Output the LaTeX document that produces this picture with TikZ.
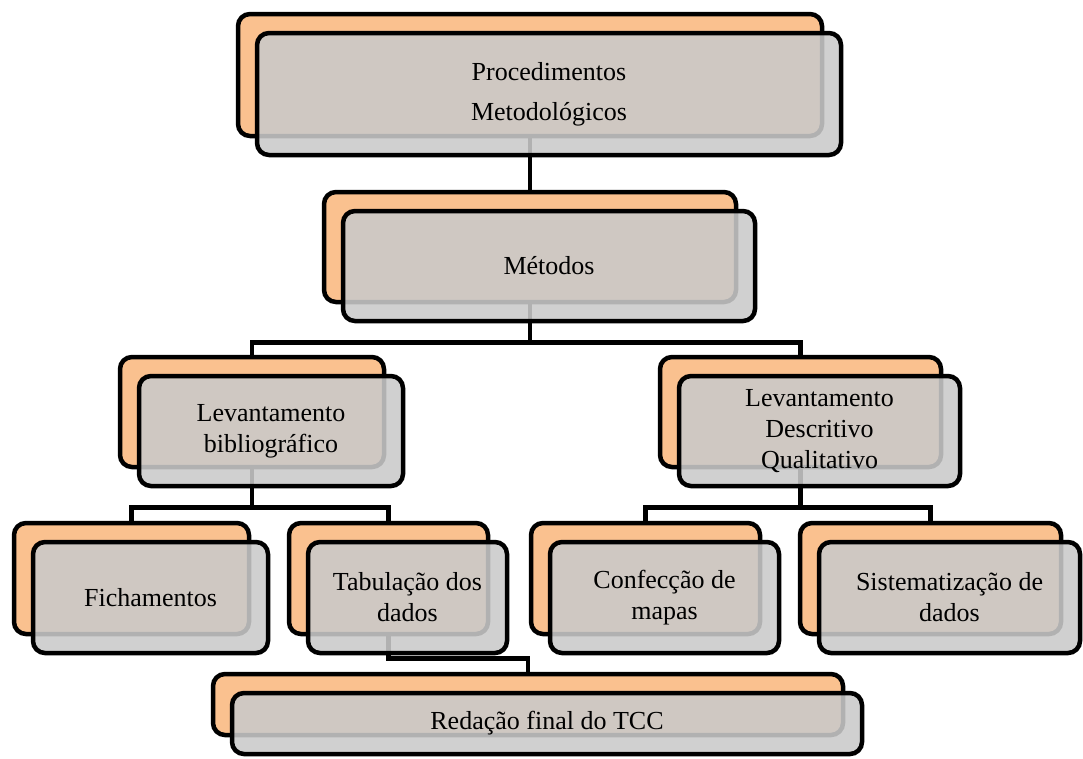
\documentclass[tikz,border=0pt]{standalone}
\usepackage{fontspec}
\setmainfont{Liberation Serif}
\definecolor{boxorange}{RGB}{250,193,143}
\definecolor{boxgrey}{RGB}{202,202,202}
\tikzset{
  backbox/.style={draw=black, line width=4.5pt, fill=boxorange, rounded corners=12pt, inner sep=0pt},
  frontbox/.style={draw=black, line width=4.5pt, fill=boxgrey, fill opacity=0.88, text opacity=1, rounded corners=12pt, inner sep=2pt, align=center, font=\fontsize{26}{31}\selectfont},
  link/.style={draw=black, line width=4.5pt}
}

\begin{document}
\begin{tikzpicture}[x=1pt, y=-1pt]
\useasboundingbox (0,0) rectangle (1083,758);
% orange boxes behind
\node[backbox, minimum width=584pt, minimum height=122pt] (procb) at (530,75) {};
\node[backbox, minimum width=412pt, minimum height=110pt] (metb) at (530,247) {};
\node[backbox, minimum width=264pt, minimum height=110pt] (bibb) at (252,412) {};
\node[backbox, minimum width=281pt, minimum height=110pt] (descb) at (800.5,412) {};
\node[backbox, minimum width=235pt, minimum height=111pt] (fichb) at (131.5,578.5) {};
\node[backbox, minimum width=199pt, minimum height=111pt] (tabb) at (388.5,578.5) {};
\node[backbox, minimum width=229pt, minimum height=111pt] (confb) at (645.5,578.5) {};
\node[backbox, minimum width=261pt, minimum height=111pt] (sistb) at (930.5,578.5) {};
\node[backbox, minimum width=630pt, minimum height=61pt] (redb) at (528,704.5) {};
% connectors
\draw[link] (procb.south) -- (metb.north);
\draw[link] (metb.south) -- ++(0,38) -| (bibb.north);
\draw[link] (metb.south) -- ++(0,38) -| (descb.north);
\draw[link] (bibb.south) -- ++(0,38) -| (fichb.north);
\draw[link] (bibb.south) -- ++(0,38) -| (tabb.north);
\draw[link] (descb.south) -- ++(0,38) -| (confb.north);
\draw[link] (descb.south) -- ++(0,38) -| (sistb.north);
\draw[link] (tabb.south) -- ++(0,22) -| (redb.north);
% grey boxes in front
\node[frontbox, minimum width=584pt, minimum height=122pt, font=\fontsize{26}{40}\selectfont] (proc) at ([shift={(19,19)}]procb.center) {Procedimentos\\Metodológicos};
\node[frontbox, minimum width=412pt, minimum height=110pt] (met) at ([shift={(19,19)}]metb.center) {Métodos};
\node[frontbox, minimum width=264pt, minimum height=110pt] (bib) at ([shift={(19,19)}]bibb.center) {Levantamento\\bibliográfico};
\node[frontbox, minimum width=281pt, minimum height=110pt] (desc) at ([shift={(19,19)}]descb.center) {Levantamento\\Descritivo\\Qualitativo};
\node[frontbox, minimum width=235pt, minimum height=111pt] (fich) at ([shift={(19,19)}]fichb.center) {Fichamentos};
\node[frontbox, minimum width=199pt, minimum height=111pt] (tab) at ([shift={(19,19)}]tabb.center) {Tabulação dos\\dados};
\node[frontbox, minimum width=229pt, minimum height=111pt] (conf) at ([shift={(19,19)}]confb.center) {Confecção de\\mapas};
\node[frontbox, minimum width=261pt, minimum height=111pt] (sist) at ([shift={(19,19)}]sistb.center) {Sistematização de\\dados};
\node[frontbox, minimum width=630pt, minimum height=61pt] (red) at ([shift={(19,19)}]redb.center) {Redação final do TCC};
\end{tikzpicture}
\end{document}
